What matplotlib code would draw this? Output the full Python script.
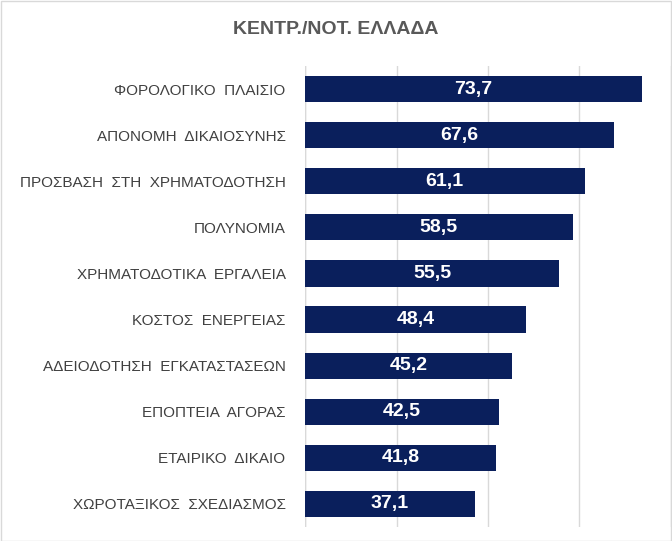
import matplotlib
matplotlib.use("Agg")
import matplotlib.pyplot as plt
from matplotlib.patches import Rectangle

plt.rcParams["font.family"] = "Liberation Sans"

categories = ["ΦΟΡΟΛΟΓΙΚΟ  ΠΛΑΙΣΙΟ", "ΑΠΟΝΟΜΗ  ΔΙΚΑΙΟΣΥΝΗΣ", "ΠΡΟΣΒΑΣΗ  ΣΤΗ  ΧΡΗΜΑΤΟΔΟΤΗΣΗ",
              "ΠΟΛΥΝΟΜΙΑ", "ΧΡΗΜΑΤΟΔΟΤΙΚΑ  ΕΡΓΑΛΕΙΑ", "ΚΟΣΤΟΣ  ΕΝΕΡΓΕΙΑΣ",
              "ΑΔΕΙΟΔΟΤΗΣΗ  ΕΓΚΑΤΑΣΤΑΣΕΩΝ", "ΕΠΟΠΤΕΙΑ  ΑΓΟΡΑΣ", "ΕΤΑΙΡΙΚΟ  ΔΙΚΑΙΟ",
              "ΧΩΡΟΤΑΞΙΚΟΣ  ΣΧΕΔΙΑΣΜΟΣ"]
values = [73.7, 67.6, 61.1, 58.5, 55.5, 48.4, 45.2, 42.5, 41.8, 37.1]
title = "ΚΕΝΤΡ./ΝΟΤ. ΕΛΛΑΔΑ"

W, H = 672, 541
fig = plt.figure(figsize=(W/100, H/100), dpi=100)
fig.patches.append(Rectangle((0.5/W, 0.5/H), 1-1.5/W, 1-1.5/H, transform=fig.transFigure,
                             fill=False, edgecolor="#d9d9d9", linewidth=1))
ax = fig.add_axes([305/W, 1-527/H, (671-305)/W, (527-66)/H])
y = list(range(len(categories)))
ax.barh(y, values, height=0.57, color="#0a1f5c", zorder=3)
for yi, v in zip(y, values):
    ax.text(v/2, yi, f"{v:.1f}".replace(".", ","), ha="center", va="center",
            color="white", fontsize=14, fontweight="bold", zorder=4)
ax.set_yticks(y)
ax.set_yticklabels(categories, fontsize=11, color="#404040")
ax.set_ylim(len(categories)-0.5, -0.5)
ax.set_xlim(0, 80)
ax.set_xticks([0, 20, 40, 60, 80])
ax.tick_params(axis="x", length=0, labelbottom=False)
ax.tick_params(axis="y", length=0, pad=14)
ax.grid(axis="x", color="#d9d9d9", linewidth=1, zorder=0)
for s in ax.spines.values():
    s.set_visible(False)
ax.axvline(0, color="#d9d9d9", linewidth=1, zorder=2)
fig.text(336/W, 1-30/H, title, ha="center", va="center", fontsize=14,
         fontweight="bold", color="#595959")
fig.savefig("out.png", dpi=100)
